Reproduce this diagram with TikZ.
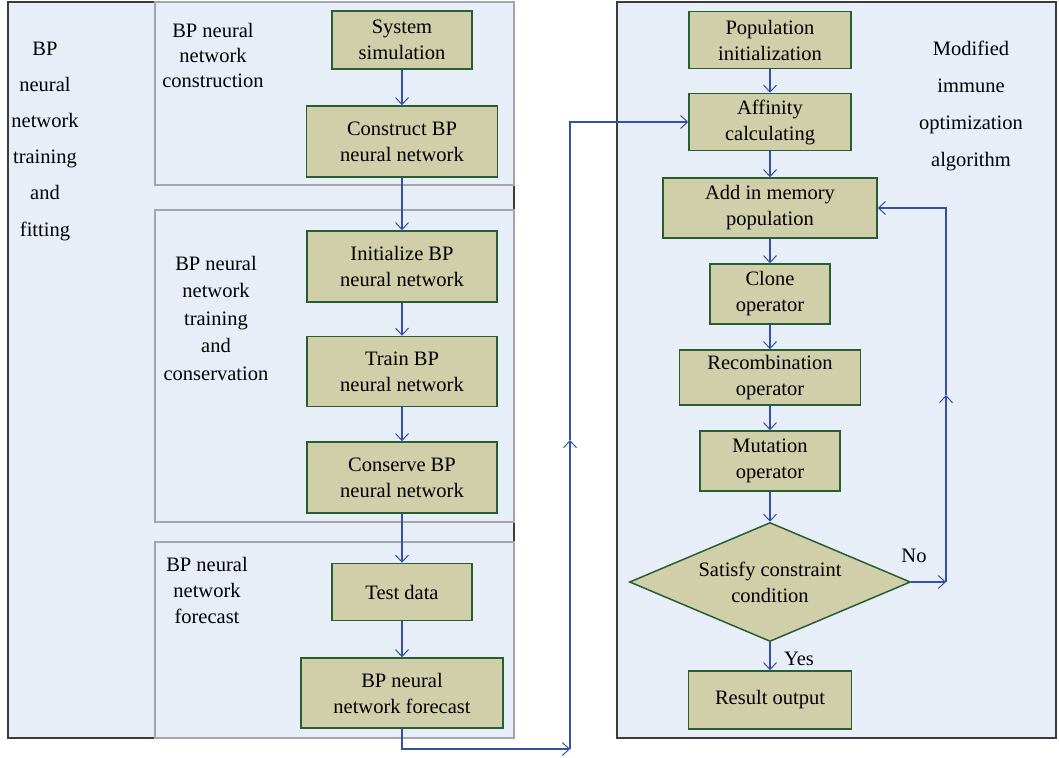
\documentclass[tikz,border=0pt]{standalone}
\usepackage{fontspec}
\setmainfont{Liberation Serif}
\usetikzlibrary{arrows.meta,shapes.geometric}
\definecolor{bg}{RGB}{232,238,247}
\definecolor{boxfill}{RGB}{209,207,169}
\definecolor{boxline}{RGB}{40,95,50}
\definecolor{connc}{RGB}{50,80,170}
\definecolor{framec}{RGB}{60,60,60}
\definecolor{subc}{RGB}{165,165,172}
\begin{document}
\begin{tikzpicture}[x=1pt,y=-1pt,
  font=\fontsize{20.5}{26}\selectfont,
  proc/.style={draw=boxline, line width=1.5pt, fill=boxfill, align=center, inner sep=0pt},
  link/.style={draw=connc, line width=1.5pt, -{Straight Barb[length=7pt,width=13pt,line width=1pt]}},
  lbl/.style={align=center, inner sep=0pt},
  frame/.style={draw=framec, line width=1.5pt, fill=bg},
  subframe/.style={draw=subc, line width=1.5pt}]
\useasboundingbox (0,0) rectangle (1059,757);

% frames
\draw[frame] (8,2) rectangle (514,738);
\draw[subframe] (155,2) rectangle (514,185);
\draw[subframe] (155,210) rectangle (514,522);
\draw[subframe] (155,542) rectangle (514,738);
\draw[frame] (617,2) rectangle (1056,738);

% group labels
\node[lbl, font=\fontsize{20.5}{36.2}\selectfont] (gl) at (45,141) {BP\\neural\\network\\training\\and\\fitting};
\node[lbl, font=\fontsize{20.5}{25}\selectfont] (g1) at (213,55) {BP neural\\network\\construction};
\node[lbl, font=\fontsize{20.5}{27.5}\selectfont] (g2) at (216,318) {BP neural\\network\\training\\and\\conservation};
\node[lbl, font=\fontsize{20.5}{26}\selectfont] (g3) at (207,590) {BP neural\\network\\forecast};
\node[lbl, font=\fontsize{20.5}{37}\selectfont] (gr) at (971,106) {Modified\\immune\\optimization\\algorithm};

% left column
\node[proc, minimum width=140, minimum height=58] (sys) at (402,40) {System\\simulation};
\node[proc, minimum width=191, minimum height=71] (con) at (402,141.5) {Construct BP\\neural network};
\node[proc, minimum width=190, minimum height=71] (ini) at (402,266.5) {Initialize BP\\neural network};
\node[proc, minimum width=190, minimum height=70] (trn) at (402,371.5) {Train BP\\neural network};
\node[proc, minimum width=190, minimum height=71] (cns) at (402,477.5) {Conserve BP\\neural network};
\node[proc, minimum width=140, minimum height=57] (tst) at (402,592) {Test data};
\node[proc, minimum width=202, minimum height=70] (fc) at (402,693) {BP neural\\network forecast};

% right column
\node[proc, minimum width=162, minimum height=57] (pop) at (770,40) {Population\\initialization};
\node[proc, minimum width=162, minimum height=57] (aff) at (770,122) {Affinity\\calculating};
\node[proc, minimum width=214, minimum height=60] (add) at (770,208) {Add in memory\\population};
\node[proc, minimum width=120, minimum height=60] (cln) at (770,294) {Clone\\operator};
\node[proc, minimum width=181, minimum height=55] (rec) at (770,377.5) {Recombination\\operator};
\node[proc, minimum width=140, minimum height=60] (mut) at (770,461) {Mutation\\operator};
\node[proc, shape=diamond, aspect=2.36, minimum width=281, minimum height=119] (dia) at (770,582) {Satisfy constraint\\condition};
\node[proc, minimum width=163, minimum height=58] (res) at (770,700) {Result output};

\node[lbl] (no) at (914,556) {No};
\node[lbl] (yes) at (799,659) {Yes};

% connectors left
\draw[link] (sys) -- (con);
\draw[link] (con) -- (ini);
\draw[link] (ini) -- (trn);
\draw[link] (trn) -- (cns);
\draw[link] (cns) -- (tst);
\draw[link] (tst) -- (fc);

% cross link
\coordinate (c1) at (570,749);
\coordinate (cm) at (570,440);
\draw[link] (fc.south) |- (c1);
\draw[link] (c1) -- (cm);
\draw[link] (cm) |- (aff.west);

% connectors right
\draw[link] (pop) -- (aff);
\draw[link] (aff) -- (add);
\draw[link] (add) -- (cln);
\draw[link] (cln) -- (rec);
\draw[link] (rec) -- (mut);
\draw[link] (mut) -- (dia);
\draw[link] (dia) -- (res);

% feedback
\coordinate (n1) at (946,582);
\coordinate (nm) at (946,395);
\draw[link] (dia.east) -- (n1);
\draw[link] (n1) -- (nm);
\draw[link] (nm) |- (add.east);
\end{tikzpicture}
\end{document}
